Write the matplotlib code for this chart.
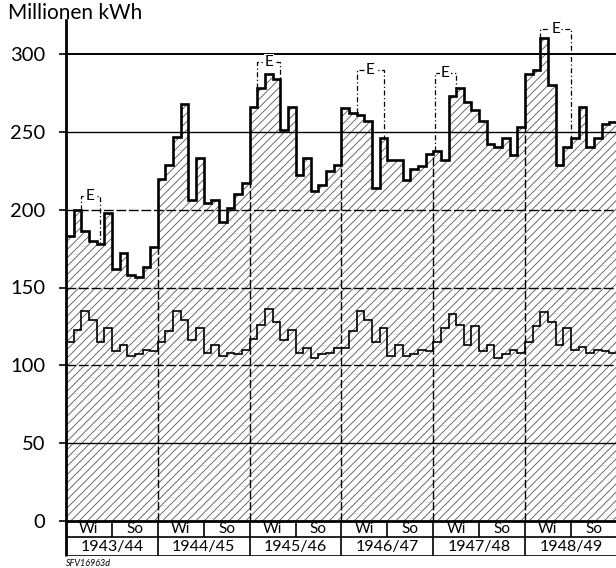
import numpy as np
import matplotlib
matplotlib.use("Agg")
import matplotlib.pyplot as plt
from matplotlib import rcParams

rcParams['font.family'] = ['Lato', 'DejaVu Sans']
rcParams['hatch.linewidth'] = 0.6

# monthly values Oct..Sep, hydrological years 1943/44 .. 1948/49 (Millionen kWh)
top = [183, 200, 186, 180, 178, 198, 162, 172, 158, 157, 163, 176,
       220, 229, 247, 268, 206, 233, 204, 206, 192, 201, 210, 217,
       266, 278, 287, 284, 251, 266, 222, 233, 212, 216, 225, 229,
       265, 262, 261, 257, 214, 246, 232, 232, 219, 226, 228, 236,
       238, 232, 273, 278, 269, 264, 257, 242, 240, 246, 235, 253,
       287, 290, 310, 280, 229, 240, 246, 266, 240, 246, 255, 256]
lower = [115, 123, 135, 129, 115, 124, 109, 113, 106, 107, 110, 109,
         115, 122, 135, 129, 116, 124, 108, 113, 106, 108, 107, 110,
         117, 126, 136, 128, 116, 123, 108, 111, 105, 107, 108, 111,
         111, 122, 135, 129, 115, 124, 106, 113, 106, 107, 110, 109,
         115, 124, 133, 126, 113, 125, 109, 113, 105, 107, 110, 108,
         115, 125, 134, 128, 113, 124, 110, 112, 108, 110, 109, 108]
years = ['1943/44', '1944/45', '1945/46', '1946/47', '1947/48', '1948/49']
halves = ['Wi', 'So']
# "E" brackets (month position left/right, top value)
e_left = [2.0, 25.0, 38.0, 48.2, 62.0]
e_right = [4.4, 28.0, 41.6, 51.0, 66.0]
e_top = [209, 295, 290, 288, 316]

n = len(top)
edges = np.arange(n + 1)

fig = plt.figure(figsize=(6.16, 5.68), dpi=100)
L = 66 / 616
W = n * 7.65 / 616
pxu = (521 - 54) / 300
ymax = 322
ax = fig.add_axes([L, (568 - 521) / 568, W, ymax * pxu / 568])

# hatched area + outlines
ax.stairs(top, edges, baseline=0, fill=True, facecolor='white',
          edgecolor='#555555', hatch='////', linewidth=0, zorder=1)
ax.stairs(top, edges, baseline=None, color='black', linewidth=1.9, zorder=4)
ax.stairs(lower, edges, baseline=None, color='black', linewidth=1.2, zorder=4)

# grid
ax.axhline(300, color='black', lw=1.4, zorder=3)
for v in [50, 250]:
    ax.axhline(v, color='black', lw=1.0, zorder=3)
for v in [100, 150, 200]:
    ax.axhline(v, color='black', lw=1.0, ls=(0, (7, 2)), zorder=3)
for k in range(12, n, 12):
    ax.vlines(k, 0, min(top[k - 1], top[k]), color='black', lw=1.0,
              ls=(0, (6, 2)), zorder=3)


def curve_at(x):
    if float(x).is_integer():
        i = int(x)
        return max(top[max(i - 1, 0)], top[min(i, n - 1)])
    return top[int(x)]


for xl, xr, yt in zip(e_left, e_right, e_top):
    style = dict(color='black', lw=0.9, ls=(0, (4, 2, 1, 2)), zorder=5, clip_on=False)
    ax.plot([xl, xl, xr, xr], [curve_at(xl), yt, yt, curve_at(xr)], **style)
    ax.text((xl + xr) / 2, yt, 'E', ha='center', va='center', fontsize=11,
            zorder=6, bbox=dict(facecolor='white', edgecolor='none', pad=0.5))

ax.set_xlim(0, n)
ax.set_ylim(0, ymax)
ax.set_yticks(np.arange(0, 301, 50))
ax.set_xticks([])
for s in ['top', 'right']:
    ax.spines[s].set_visible(False)
for s in ['left', 'bottom']:
    ax.spines[s].set_linewidth(2.0)
ax.tick_params(axis='y', length=5, width=1.2, pad=10, labelsize=14.5)

fig.text(8 / 616, 1 - 13 / 568, 'Millionen kWh', fontsize=15, ha='left', va='center')

# table below the axis
tab = fig.add_axes([L, (568 - 556) / 568, W, 35 / 568])
tab.set_xlim(0, n)
tab.set_ylim(0, 35)
tab.axis('off')
tab.hlines([19, 0.5], 0, n, color='black', lw=1.2)
for k in range(0, n + 1, 12):
    tab.vlines(k, 0.5, 35, color='black', lw=2.0 if k == 0 else 1.2, clip_on=False)
for k in range(6, n, 12):
    tab.vlines(k, 19, 35, color='black', lw=1.2)
for i, yl in enumerate(years):
    tab.text(12 * i + 6, 9.5, yl, ha='center', va='center', fontsize=11.5)
    for j, h in enumerate(halves):
        tab.text(12 * i + 3 + 6 * j, 27, h, ha='center', va='center', fontsize=11)

fig.text(66 / 616, 1 - 563 / 568, 'SFV16963d', fontsize=6.5, style='italic',
         ha='left', va='center')

fig.savefig('out.png', dpi=100)
